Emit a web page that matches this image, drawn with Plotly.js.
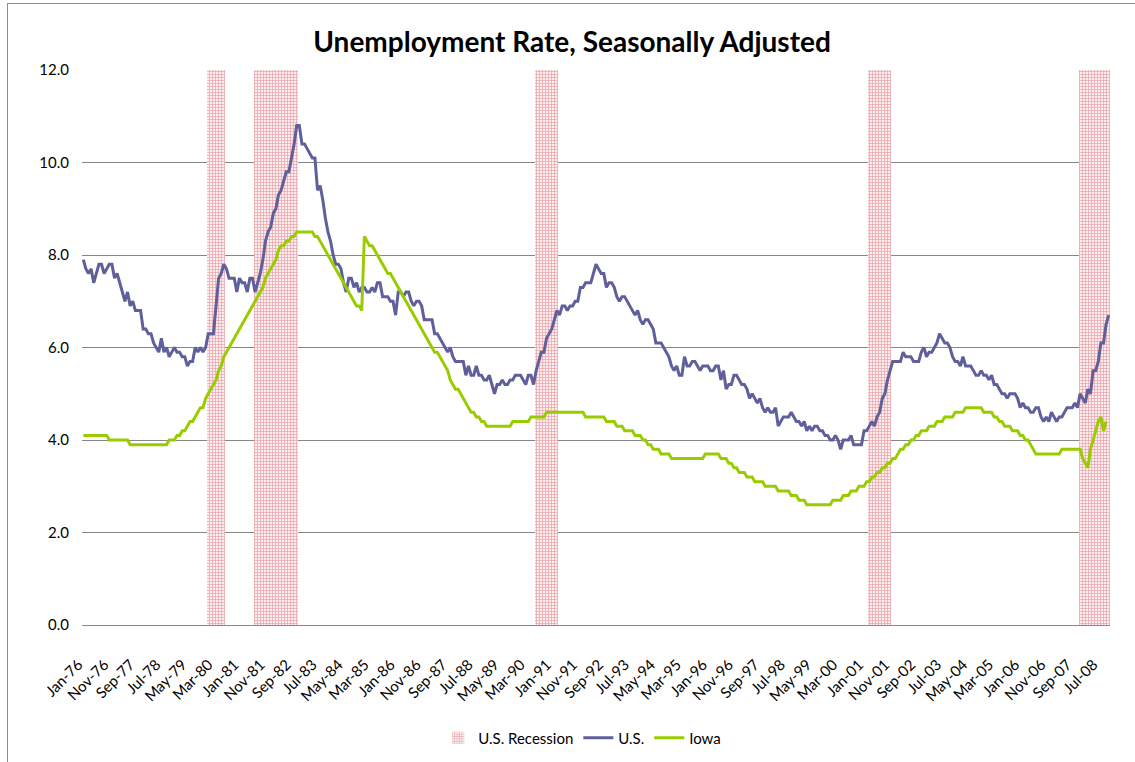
<!DOCTYPE html>
<html>
<head>
<meta charset="utf-8">
<script src="https://cdn.plot.ly/plotly-3.0.1.min.js"></script>
<style>
  html, body { margin: 0; padding: 0; background: #ffffff; }
  #wrap { position: relative; width: 1135px; height: 762px; overflow: hidden; }
  #frame { position: absolute; left: 7px; top: 3px; width: 1200px; height: 800px; border: 1px solid #8c8c8c; box-sizing: border-box; pointer-events: none; }
  #chart { position: absolute; left: 0; top: 0; width: 1135px; height: 762px; }
</style>
</head>
<body>
<div id="wrap">
  <div id="chart"></div>
  <div id="frame"></div>
</div>
<script>
// ---------------- DATA ----------------
const startYear = 1976;
const monthNames = ['Jan','Feb','Mar','Apr','May','Jun','Jul','Aug','Sep','Oct','Nov','Dec'];

// U.S. unemployment rate, seasonally adjusted (Jan-76 .. Nov-08)
const usRate = [
  7.9,7.7,7.6,7.7,7.4,7.6,7.8,7.8,7.6,7.7,7.8,7.8,   // 1976
  7.5,7.6,7.4,7.2,7.0,7.2,6.9,7.0,6.8,6.8,6.8,6.4,   // 1977
  6.4,6.3,6.3,6.1,6.0,5.9,6.2,5.9,6.0,5.8,5.9,6.0,   // 1978
  5.9,5.9,5.8,5.8,5.6,5.7,5.7,6.0,5.9,6.0,5.9,6.0,   // 1979
  6.3,6.3,6.3,6.9,7.5,7.6,7.8,7.7,7.5,7.5,7.5,7.2,   // 1980
  7.5,7.4,7.4,7.2,7.5,7.5,7.2,7.4,7.6,7.9,8.3,8.5,   // 1981
  8.6,8.9,9.0,9.3,9.4,9.6,9.8,9.8,10.1,10.4,10.8,10.8, // 1982
  10.4,10.4,10.3,10.2,10.1,10.1,9.4,9.5,9.2,8.8,8.5,8.3, // 1983
  8.0,7.8,7.8,7.7,7.4,7.2,7.5,7.5,7.3,7.4,7.2,7.3,   // 1984
  7.3,7.2,7.2,7.3,7.2,7.4,7.4,7.1,7.1,7.1,7.0,7.0,   // 1985
  6.7,7.2,7.2,7.1,7.2,7.2,7.0,6.9,7.0,7.0,6.9,6.6,   // 1986
  6.6,6.6,6.6,6.3,6.3,6.2,6.1,6.0,5.9,6.0,5.8,5.7,   // 1987
  5.7,5.7,5.7,5.4,5.6,5.4,5.4,5.6,5.4,5.4,5.3,5.3,   // 1988
  5.4,5.2,5.0,5.2,5.2,5.3,5.2,5.2,5.3,5.3,5.4,5.4,   // 1989
  5.4,5.3,5.2,5.4,5.4,5.2,5.5,5.7,5.9,5.9,6.2,6.3,   // 1990
  6.4,6.6,6.8,6.7,6.9,6.9,6.8,6.9,6.9,7.0,7.0,7.3,   // 1991
  7.3,7.4,7.4,7.4,7.6,7.8,7.7,7.6,7.6,7.3,7.4,7.4,   // 1992
  7.3,7.1,7.0,7.1,7.1,7.0,6.9,6.8,6.7,6.8,6.6,6.5,   // 1993
  6.6,6.6,6.5,6.4,6.1,6.1,6.1,6.0,5.9,5.8,5.6,5.5,   // 1994
  5.6,5.4,5.4,5.8,5.6,5.6,5.7,5.7,5.6,5.5,5.6,5.6,   // 1995
  5.6,5.5,5.5,5.6,5.6,5.3,5.5,5.1,5.2,5.2,5.4,5.4,   // 1996
  5.3,5.2,5.2,5.1,4.9,5.0,4.9,4.8,4.9,4.7,4.6,4.7,   // 1997
  4.6,4.6,4.7,4.3,4.4,4.5,4.5,4.5,4.6,4.5,4.4,4.4,   // 1998
  4.3,4.4,4.2,4.3,4.2,4.3,4.3,4.2,4.2,4.1,4.1,4.0,   // 1999
  4.0,4.1,4.0,3.8,4.0,4.0,4.0,4.1,3.9,3.9,3.9,3.9,   // 2000
  4.2,4.2,4.3,4.4,4.3,4.5,4.6,4.9,5.0,5.3,5.5,5.7,   // 2001
  5.7,5.7,5.7,5.9,5.8,5.8,5.8,5.7,5.7,5.7,5.9,6.0,   // 2002
  5.8,5.9,5.9,6.0,6.1,6.3,6.2,6.1,6.1,6.0,5.8,5.7,   // 2003
  5.7,5.6,5.8,5.6,5.6,5.6,5.5,5.4,5.4,5.5,5.4,5.4,   // 2004
  5.3,5.4,5.2,5.2,5.1,5.0,5.0,4.9,5.0,5.0,5.0,4.9,   // 2005
  4.7,4.8,4.7,4.7,4.6,4.6,4.7,4.7,4.5,4.4,4.5,4.4,   // 2006
  4.6,4.5,4.4,4.5,4.5,4.6,4.7,4.7,4.7,4.8,4.7,5.0,   // 2007
  4.9,4.8,5.1,5.0,5.5,5.5,5.7,6.1,6.1,6.5,6.7        // 2008
];

// Iowa unemployment rate, seasonally adjusted (Jan-76 .. Oct-08)
const iowaRate = [
  4.1,4.1,4.1,4.1,4.1,4.1,4.1,4.1,4.1,4.1,4.0,4.0,   // 1976
  4.0,4.0,4.0,4.0,4.0,4.0,3.9,3.9,3.9,3.9,3.9,3.9,   // 1977
  3.9,3.9,3.9,3.9,3.9,3.9,3.9,3.9,3.9,4.0,4.0,4.0,   // 1978
  4.1,4.1,4.2,4.2,4.3,4.4,4.4,4.5,4.6,4.7,4.7,4.9,   // 1979
  5.0,5.1,5.2,5.3,5.5,5.6,5.8,5.9,6.0,6.1,6.2,6.3,   // 1980
  6.4,6.5,6.6,6.7,6.8,6.9,7.0,7.1,7.2,7.3,7.5,7.6,   // 1981
  7.7,7.8,7.9,8.1,8.2,8.2,8.3,8.3,8.4,8.4,8.5,8.5,   // 1982
  8.5,8.5,8.5,8.5,8.5,8.4,8.4,8.3,8.2,8.1,8.0,7.9,   // 1983
  7.8,7.7,7.6,7.5,7.4,7.3,7.2,7.1,7.0,6.9,6.9,6.8,   // 1984
  8.4,8.3,8.2,8.2,8.1,8.0,7.9,7.8,7.7,7.6,7.6,7.5,   // 1985
  7.4,7.3,7.2,7.1,7.0,6.9,6.8,6.7,6.6,6.5,6.4,6.3,   // 1986
  6.2,6.1,6.0,5.9,5.9,5.8,5.7,5.6,5.5,5.3,5.2,5.1,   // 1987
  5.1,5.0,4.9,4.8,4.7,4.6,4.6,4.5,4.5,4.4,4.4,4.3,   // 1988
  4.3,4.3,4.3,4.3,4.3,4.3,4.3,4.3,4.3,4.4,4.4,4.4,   // 1989
  4.4,4.4,4.4,4.4,4.5,4.5,4.5,4.5,4.5,4.5,4.6,4.6,   // 1990
  4.6,4.6,4.6,4.6,4.6,4.6,4.6,4.6,4.6,4.6,4.6,4.6,   // 1991
  4.6,4.5,4.5,4.5,4.5,4.5,4.5,4.5,4.5,4.4,4.4,4.4,   // 1992
  4.4,4.3,4.3,4.3,4.2,4.2,4.2,4.2,4.1,4.1,4.1,4.0,   // 1993
  4.0,3.9,3.9,3.8,3.8,3.8,3.7,3.7,3.7,3.7,3.6,3.6,   // 1994
  3.6,3.6,3.6,3.6,3.6,3.6,3.6,3.6,3.6,3.6,3.6,3.7,   // 1995
  3.7,3.7,3.7,3.7,3.7,3.6,3.6,3.6,3.5,3.5,3.4,3.4,   // 1996
  3.3,3.3,3.3,3.2,3.2,3.2,3.1,3.1,3.1,3.1,3.0,3.0,   // 1997
  3.0,3.0,3.0,2.9,2.9,2.9,2.9,2.9,2.8,2.8,2.8,2.7,   // 1998
  2.7,2.7,2.6,2.6,2.6,2.6,2.6,2.6,2.6,2.6,2.6,2.6,   // 1999
  2.7,2.7,2.7,2.7,2.8,2.8,2.8,2.9,2.9,2.9,3.0,3.0,   // 2000
  3.0,3.1,3.1,3.2,3.2,3.3,3.3,3.4,3.4,3.5,3.5,3.6,   // 2001
  3.6,3.7,3.8,3.8,3.9,3.9,4.0,4.0,4.1,4.1,4.2,4.2,   // 2002
  4.2,4.3,4.3,4.3,4.4,4.4,4.4,4.5,4.5,4.5,4.5,4.6,   // 2003
  4.6,4.6,4.6,4.7,4.7,4.7,4.7,4.7,4.7,4.7,4.6,4.6,   // 2004
  4.6,4.6,4.5,4.5,4.4,4.4,4.3,4.3,4.3,4.2,4.2,4.2,   // 2005
  4.1,4.1,4.0,4.0,3.9,3.8,3.7,3.7,3.7,3.7,3.7,3.7,   // 2006
  3.7,3.7,3.7,3.7,3.8,3.8,3.8,3.8,3.8,3.8,3.8,3.8,   // 2007
  3.6,3.5,3.4,3.8,4.0,4.2,4.4,4.5,4.2,4.4            // 2008
];

// U.S. recessions (first and last month shaded)
const recessionStart = ['Jan-80','Jul-81','Jul-90','Mar-01','Dec-07'];
const recessionEnd   = ['Jul-80','Nov-82','Mar-91','Nov-01','Nov-08'];
const recessionHeight = 12;

// x-axis tick labels (every 10th month)
const tickLabels = ['Jan-76','Nov-76','Sep-77','Jul-78','May-79','Mar-80','Jan-81','Nov-81','Sep-82','Jul-83',
  'May-84','Mar-85','Jan-86','Nov-86','Sep-87','Jul-88','May-89','Mar-90','Jan-91','Nov-91',
  'Sep-92','Jul-93','May-94','Mar-95','Jan-96','Nov-96','Sep-97','Jul-98','May-99','Mar-00',
  'Jan-01','Nov-01','Sep-02','Jul-03','May-04','Mar-05','Jan-06','Nov-06','Sep-07','Jul-08'];

// ---------------- BUILD ----------------
const nMonths = usRate.length;
const months = [];
for (let i = 0; i < nMonths; i++) {
  const y = startYear + Math.floor(i / 12);
  months.push(monthNames[i % 12] + '-' + String(y % 100).padStart(2, '0'));
}
const inRecession = new Array(nMonths).fill(false);
recessionStart.forEach((s, k) => {
  const a = months.indexOf(s), b = months.indexOf(recessionEnd[k]);
  for (let i = a; i <= b; i++) inRecession[i] = true;
});
const recY = inRecession.map(f => f ? recessionHeight : null);

const FONT = 'Lato, "Open Sans", sans-serif';

const traces = [
  {
    type: 'bar', name: 'U.S. Recession', x: months, y: recY,
    marker: {
      color: '#FBEAEA',
      line: { width: 0 },
      pattern: { shape: '+', fgcolor: '#E9A0A6', bgcolor: '#FCEEEE', size: 3, solidity: 0.4 }
    },
    width: 1
  },
  {
    type: 'scatter', mode: 'lines', name: 'U.S.', x: months, y: usRate,
    line: { color: '#5F5F9B', width: 3 }
  },
  {
    type: 'scatter', mode: 'lines', name: 'Iowa', x: months.slice(0, iowaRate.length), y: iowaRate,
    line: { color: '#99CC00', width: 3 }
  }
];

const layout = {
  width: 1135, height: 762,
  paper_bgcolor: 'rgba(0,0,0,0)', plot_bgcolor: 'rgba(0,0,0,0)',
  margin: { l: 82, r: 25, t: 70, b: 137 },
  font: { family: FONT, size: 14, color: '#000000' },
  title: {
    text: '<b>Unemployment Rate, Seasonally Adjusted</b>',
    font: { family: FONT, size: 28, color: '#000000' },
    x: 0.504, xanchor: 'center', y: 0.945, yanchor: 'middle', yref: 'container'
  },
  bargap: 0,
  showlegend: true,
  legend: {
    orientation: 'h', x: 0.513, xanchor: 'center', xref: 'container',
    y: 0.0315, yanchor: 'middle', yref: 'container',
    font: { family: FONT, size: 15 }, traceorder: 'normal'
  },
  xaxis: {
    type: 'category',
    range: [-0.5, nMonths - 0.5],
    tickmode: 'array', tickvals: tickLabels, ticktext: tickLabels,
    tickangle: -45,
    tickfont: { family: FONT, size: 15 },
    ticklabelstandoff: 24,
    ticklabelshift: -5,
    showgrid: false, showline: true, linecolor: '#878787', linewidth: 1,
    ticks: '', zeroline: false, automargin: false
  },
  yaxis: {
    range: [0, 12], dtick: 2, tickformat: '.1f',
    tickfont: { family: FONT, size: 15 },
    showgrid: true, gridcolor: '#878787', gridwidth: 1,
    showline: false, zeroline: false, ticks: '', ticklabelstandoff: 12, automargin: false
  },
  hovermode: false
};

Plotly.newPlot('chart', traces, layout, { staticPlot: true, displayModeBar: false });
</script>
</body>
</html>
